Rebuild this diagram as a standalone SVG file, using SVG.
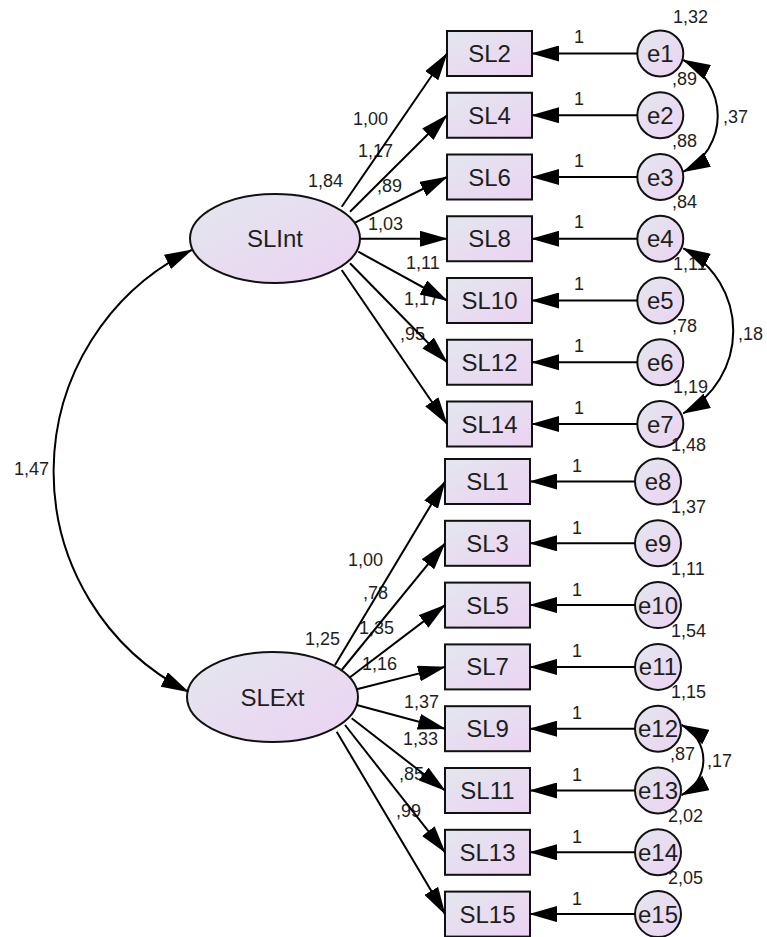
<svg xmlns="http://www.w3.org/2000/svg" width="767" height="937" viewBox="0 0 767 937">
<style>
.box{stroke:#111;stroke-width:2;fill:url(#g)}
.nt{font-family:"Liberation Sans",Arial,sans-serif;font-size:24px;fill:#1e1e1e;text-anchor:middle}
.lb{font-family:"Liberation Sans",Arial,sans-serif;font-size:18px;fill:#1e1e1e}
.m{text-anchor:middle}
.cn path{fill:none;stroke:#000;stroke-width:2}
.one{marker-end:url(#ah)}
.two{marker-start:url(#ah);marker-end:url(#ah)}
</style>
<defs>
<linearGradient id="g" x1="0" y1="0" x2="1" y2="1">
<stop offset="0" stop-color="#e3e7ee"/>
<stop offset="1" stop-color="#ecd2f3"/>
</linearGradient>
<marker id="ah" markerUnits="userSpaceOnUse" markerWidth="28" markerHeight="16" viewBox="0 0 28 16" refX="27" refY="8" orient="auto-start-reverse">
<path d="M0,0 L28,8 L0,16 z" fill="#000"/>
</marker>
</defs>
<rect width="767" height="937" fill="#fff"/>

<g id="SLInt"><ellipse class="box" cx="275" cy="238.5" rx="85" ry="44.5"/><text class="nt" x="275" y="247">SLInt</text></g>
<g id="SLExt"><ellipse class="box" cx="272.5" cy="697" rx="85.5" ry="45"/><text class="nt" x="272.5" y="705.5">SLExt</text></g>

<g id="SL2"><rect class="box" x="447" y="31" width="85" height="45"/><text class="nt" x="489.5" y="62">SL2</text></g>
<g id="SL4"><rect class="box" x="447" y="92.75" width="85" height="45"/><text class="nt" x="489.5" y="123.8">SL4</text></g>
<g id="SL6"><rect class="box" x="447" y="154.5" width="85" height="45"/><text class="nt" x="489.5" y="185.5">SL6</text></g>
<g id="SL8"><rect class="box" x="447" y="216.25" width="85" height="45"/><text class="nt" x="489.5" y="247.3">SL8</text></g>
<g id="SL10"><rect class="box" x="447" y="278" width="85" height="45"/><text class="nt" x="489.5" y="309">SL10</text></g>
<g id="SL12"><rect class="box" x="447" y="339.75" width="85" height="45"/><text class="nt" x="489.5" y="370.8">SL12</text></g>
<g id="SL14"><rect class="box" x="447" y="401.5" width="85" height="45"/><text class="nt" x="489.5" y="432.5">SL14</text></g>
<g id="SL1"><rect class="box" x="445" y="459" width="85" height="45"/><text class="nt" x="487.5" y="490">SL1</text></g>
<g id="SL3"><rect class="box" x="445" y="520.8" width="85" height="45"/><text class="nt" x="487.5" y="551.8">SL3</text></g>
<g id="SL5"><rect class="box" x="445" y="582.6" width="85" height="45"/><text class="nt" x="487.5" y="613.6">SL5</text></g>
<g id="SL7"><rect class="box" x="445" y="644.4" width="85" height="45"/><text class="nt" x="487.5" y="675.4">SL7</text></g>
<g id="SL9"><rect class="box" x="445" y="706.2" width="85" height="45"/><text class="nt" x="487.5" y="737.2">SL9</text></g>
<g id="SL11"><rect class="box" x="445" y="768" width="85" height="45"/><text class="nt" x="487.5" y="799">SL11</text></g>
<g id="SL13"><rect class="box" x="445" y="829.8" width="85" height="45"/><text class="nt" x="487.5" y="860.8">SL13</text></g>
<g id="SL15"><rect class="box" x="445" y="891.6" width="85" height="45"/><text class="nt" x="487.5" y="922.6">SL15</text></g>

<g id="e1"><circle class="box" cx="660.3" cy="53.5" r="23"/><text class="nt" x="660.3" y="62">e1</text></g>
<g id="e2"><circle class="box" cx="660.3" cy="115.25" r="23"/><text class="nt" x="660.3" y="123.8">e2</text></g>
<g id="e3"><circle class="box" cx="660.3" cy="177" r="23"/><text class="nt" x="660.3" y="185.5">e3</text></g>
<g id="e4"><circle class="box" cx="660.3" cy="238.75" r="23"/><text class="nt" x="660.3" y="247.3">e4</text></g>
<g id="e5"><circle class="box" cx="660.3" cy="300.5" r="23"/><text class="nt" x="660.3" y="309">e5</text></g>
<g id="e6"><circle class="box" cx="660.3" cy="362.25" r="23"/><text class="nt" x="660.3" y="370.8">e6</text></g>
<g id="e7"><circle class="box" cx="660.3" cy="424" r="23"/><text class="nt" x="660.3" y="432.5">e7</text></g>
<g id="e8"><circle class="box" cx="658" cy="481.5" r="23"/><text class="nt" x="658" y="490">e8</text></g>
<g id="e9"><circle class="box" cx="658" cy="543.3" r="23"/><text class="nt" x="658" y="551.8">e9</text></g>
<g id="e10"><circle class="box" cx="658" cy="605.1" r="23"/><text class="nt" x="658" y="613.6">e10</text></g>
<g id="e11"><circle class="box" cx="658" cy="666.9" r="23"/><text class="nt" x="658" y="675.4">e11</text></g>
<g id="e12"><circle class="box" cx="658" cy="728.7" r="23"/><text class="nt" x="658" y="737.2">e12</text></g>
<g id="e13"><circle class="box" cx="658" cy="790.5" r="23"/><text class="nt" x="658" y="799">e13</text></g>
<g id="e14"><circle class="box" cx="658" cy="852.3" r="23"/><text class="nt" x="658" y="860.8">e14</text></g>
<g id="e15"><circle class="box" cx="658" cy="914.1" r="23"/><text class="nt" x="658" y="922.6">e15</text></g>

<g id="labels" class="lb">
<text x="14" y="475">1,47</text>
<text x="308" y="187">1,84</text>
<text x="353" y="125">1,00</text>
<text x="358" y="157">1,17</text>
<text x="377" y="192">,89</text>
<text x="368" y="230">1,03</text>
<text x="406" y="269">1,11</text>
<text x="404" y="305">1,17</text>
<text x="400" y="340">,95</text>
<text x="305" y="645">1,25</text>
<text x="348" y="566">1,00</text>
<text x="363" y="599">,78</text>
<text x="359" y="634">1,35</text>
<text x="362" y="670">1,16</text>
<text x="404" y="708">1,37</text>
<text x="403" y="745">1,33</text>
<text x="399" y="780">,85</text>
<text x="396" y="817">,99</text>
<text x="673" y="23">1,32</text>
<text x="672" y="84.5">,89</text>
<text x="672" y="146.5">,88</text>
<text x="672" y="208">,84</text>
<text x="673" y="270">1,11</text>
<text x="672" y="331.5">,78</text>
<text x="673" y="393">1,19</text>
<text x="671" y="451">1,48</text>
<text x="671" y="513">1,37</text>
<text x="671" y="574.5">1,11</text>
<text x="671" y="636.5">1,54</text>
<text x="671" y="698">1,15</text>
<text x="670" y="760">,87</text>
<text x="668" y="822">2,02</text>
<text x="668" y="883.5">2,05</text>
<text x="723" y="123">,37</text>
<text x="738" y="340">,18</text>
<text x="707" y="767">,17</text>
<text class="m" x="579" y="43">1</text>
<text class="m" x="579" y="104.75">1</text>
<text class="m" x="579" y="166.5">1</text>
<text class="m" x="579" y="228.25">1</text>
<text class="m" x="579" y="290">1</text>
<text class="m" x="579" y="351.75">1</text>
<text class="m" x="579" y="413.5">1</text>
<text class="m" x="577" y="472">1</text>
<text class="m" x="577" y="533.8">1</text>
<text class="m" x="577" y="595.6">1</text>
<text class="m" x="577" y="657.4">1</text>
<text class="m" x="577" y="719.2">1</text>
<text class="m" x="577" y="781">1</text>
<text class="m" x="577" y="842.8">1</text>
<text class="m" x="577" y="904.6">1</text>
</g>

<g id="connectors" class="cn">
<path class="two" d="M191.7,250 A247,247 0 0,0 188.3,691.7"/>
<path class="one" d="M341.7,206.7 L447,53.5"/>
<path class="one" d="M350,211.7 L447,115.25"/>
<path class="one" d="M355,222.7 L447,177"/>
<path class="one" d="M360,238.75 L447,238.75"/>
<path class="one" d="M358.3,251.7 L447,300.5"/>
<path class="one" d="M350,263.3 L447,362.25"/>
<path class="one" d="M341.7,270 L447,424"/>
<path class="one" d="M335,665 L445,481.5"/>
<path class="one" d="M341.7,670 L445,543.3"/>
<path class="one" d="M350,677.3 L445,605.1"/>
<path class="one" d="M356.7,689.3 L445,666.9"/>
<path class="one" d="M356.7,705 L445,728.7"/>
<path class="one" d="M351.7,718.3 L445,790.5"/>
<path class="one" d="M345,725 L445,852.3"/>
<path class="one" d="M336.7,731.7 L445,914.1"/>
<path class="one" d="M637.3,53.5 L532,53.5"/>
<path class="one" d="M637.3,115.25 L532,115.25"/>
<path class="one" d="M637.3,177 L532,177"/>
<path class="one" d="M637.3,238.75 L532,238.75"/>
<path class="one" d="M637.3,300.5 L532,300.5"/>
<path class="one" d="M637.3,362.25 L532,362.25"/>
<path class="one" d="M637.3,424 L532,424"/>
<path class="one" d="M635,481.5 L530,481.5"/>
<path class="one" d="M635,543.3 L530,543.3"/>
<path class="one" d="M635,605.1 L530,605.1"/>
<path class="one" d="M635,666.9 L530,666.9"/>
<path class="one" d="M635,728.7 L530,728.7"/>
<path class="one" d="M635,790.5 L530,790.5"/>
<path class="one" d="M635,852.3 L530,852.3"/>
<path class="one" d="M635,914.1 L530,914.1"/>
<path class="two" d="M683.3,60 A62.5,62.5 0 0,1 683.3,171.7"/>
<path class="two" d="M683.3,248.3 A93.1,93.1 0 0,1 683.3,413.3"/>
<path class="two" d="M681.7,725 A39.1,39.1 0 0,1 681.7,795"/>
</g>
</svg>
